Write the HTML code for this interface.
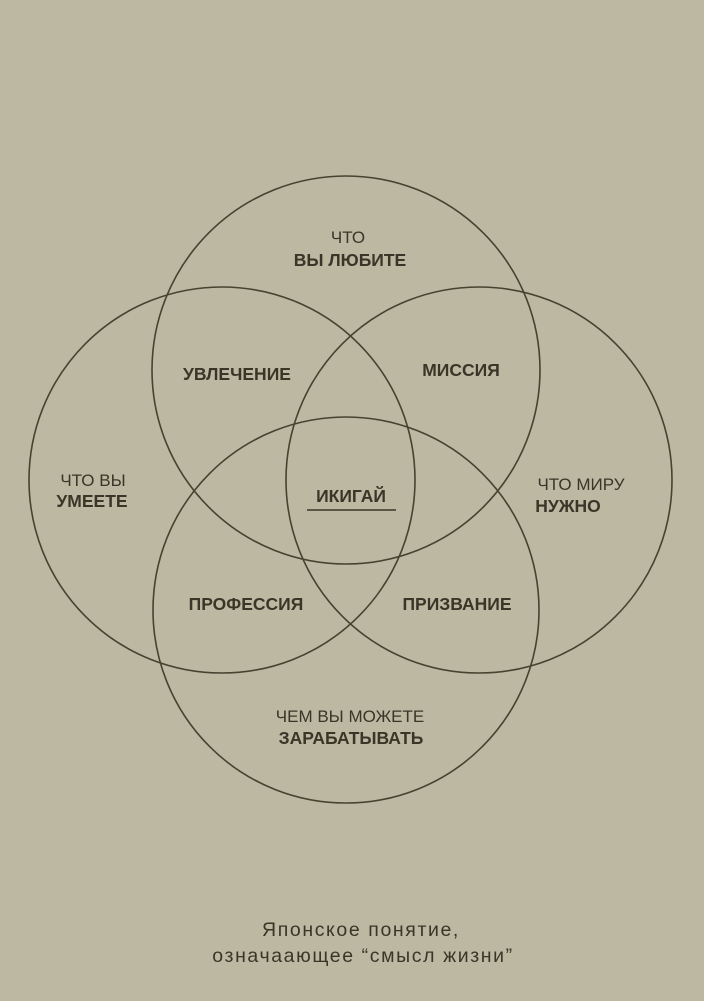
<!DOCTYPE html>
<html><head><meta charset="utf-8"><style>
html,body{margin:0;padding:0;background:#bcb8a1;}
svg{display:block}
text{font-family:"Liberation Sans",sans-serif;fill:#3a3528;}
.b{font-weight:bold;font-size:17.5px;}
.n{font-size:17px;}
</style></head><body>
<svg width="704" height="1001" viewBox="0 0 704 1001">
<rect width="704" height="1001" fill="#bcb8a1"/>
<g fill="none" stroke="#4a4130" stroke-width="1.6">
<circle cx="346" cy="370" r="194"/>
<circle cx="222" cy="480" r="193"/>
<circle cx="479" cy="480" r="193"/>
<circle cx="346" cy="610" r="193"/>
</g>
<g text-anchor="middle">
<text x="348" y="243" class="n">ЧТО</text>
<text x="350" y="266" class="b">ВЫ ЛЮБИТЕ</text>
<text x="237" y="380" class="b">УВЛЕЧЕНИЕ</text>
<text x="461" y="376" class="b">МИССИЯ</text>
<text x="93" y="486" class="n">ЧТО ВЫ</text>
<text x="92" y="507" class="b">УМЕЕТЕ</text>
<text x="351" y="502" class="b">ИКИГАЙ</text>
<line x1="307" y1="510" x2="396" y2="510" stroke="#3a3528" stroke-width="1.5"/>
<text x="581" y="490" class="n">ЧТО МИРУ</text>
<text x="568" y="512" class="b">НУЖНО</text>
<text x="246" y="610" class="b">ПРОФЕССИЯ</text>
<text x="457" y="610" class="b">ПРИЗВАНИЕ</text>
<text x="350" y="722" class="n">ЧЕМ ВЫ МОЖЕТЕ</text>
<text x="351" y="744" class="b">ЗАРАБАТЫВАТЬ</text>
<text x="361" y="936" style="font-size:19.5px;letter-spacing:1.6px">Японское понятие,</text>
<text x="363" y="962" style="font-size:19.5px;letter-spacing:1.6px">означаающее “смысл жизни”</text>
</g>
</svg>
</body></html>
